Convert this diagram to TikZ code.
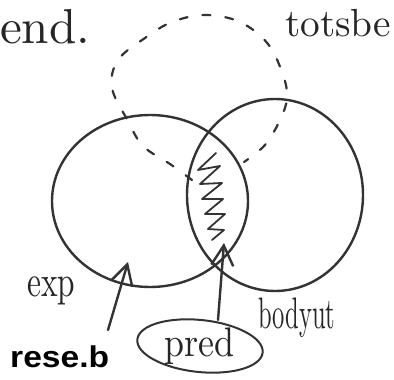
\documentclass[tikz,border=0pt]{standalone}
\usepackage{fontspec}
\newfontfamily\lblfont{Liberation Sans}
\usetikzlibrary{shapes.geometric,arrows.meta}
\begin{document}
\begin{tikzpicture}[x=1pt,y=-1pt,
  pen/.style={line width=2.4pt, draw=black!80, line cap=round, line join=round},
  hand/.style={inner sep=0pt, anchor=base west, text=black!85},
  barb/.style={-{Straight Barb[length=20pt,width=22pt,line width=2.4pt]}},
  dashcurve/.style={pen, line width=2.2pt, dash pattern=on 8pt off 15pt}]
\useasboundingbox (0,0) rectangle (394,380);
\clip (0,0) rectangle (394,380);
\fill[white] (0,0) rectangle (394,380);
% circles
\node[ellipse, pen, minimum width=196pt, minimum height=172pt, inner sep=0pt] (L) at (150,201) {};
\node[ellipse, pen, minimum width=176pt, minimum height=192pt, inner sep=0pt] (R) at (275,195) {};
% dashed loop
\draw[dashcurve] plot[smooth, tension=0.6] coordinates {(192,180) (170,164) (143,146) (128,121) (112,88) (118,60) (145,38) (172,22) (205,15) (240,22) (268,44) (283,75) (287,98) (280,120) (265,145) (244,162)};
% zigzag hatch in lens
\draw[pen, line width=1.8pt] plot coordinates {(216,153) (198,170) (220,166) (200,184) (222,183) (202,199) (223,199) (205,214) (225,214) (208,229) (224,230) (212,240)};
% labels
\node[hand] (tEnd) at (0,43) {\resizebox{90pt}{!}{end.}};
\node[hand] (tTot) at (285,37) {\resizebox{106pt}{!}{totsbe}};
\node[hand] (tExp) at (27,296) {\scalebox{1}[1.4]{\resizebox{48pt}{!}{exp}}};
\node[hand] (tBody) at (258,328) {\scalebox{1}[1.8]{\resizebox{77pt}{!}{bodyut}}};
\node[ellipse, pen, line width=2pt, minimum width=126pt, minimum height=52pt, inner sep=0pt, rotate=-6] (P) at (200,346) {};
\node[hand] (tPred) at (164,356) {\scalebox{1}[1.15]{\resizebox{70pt}{!}{pred}}};
\node[inner sep=0pt, anchor=base west, fill=white, font=\lblfont\bfseries\fontsize{30}{30}\selectfont] (tRes) at (10,367) {\scalebox{1.12}[1]{rese.b}};
% arrows
\coordinate (a1s) at (108,330);
\coordinate (a1e) at (128,262);
\coordinate (a2s) at (218,320);
\coordinate (a2e) at (224,243);
\draw[pen, barb] (a1s) -- (a1e);
\draw[pen, barb] (a2s) -- (a2e);
\end{tikzpicture}
\end{document}
